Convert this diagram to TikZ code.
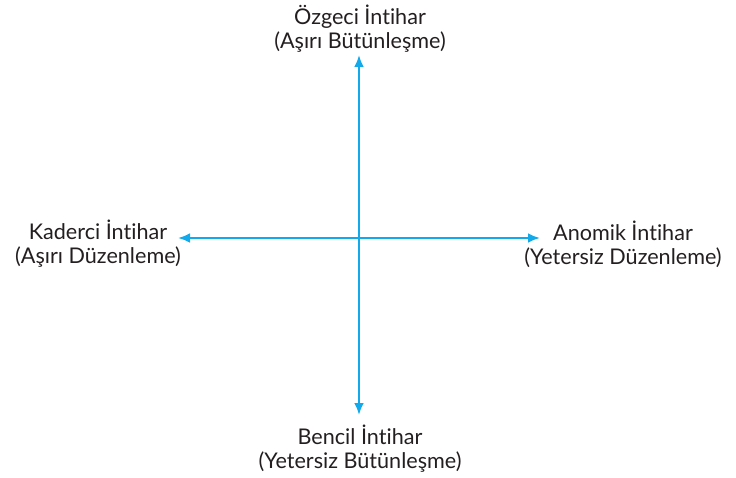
\documentclass[tikz,border=0pt]{standalone}
\usepackage{fontspec}
\setmainfont{Lato}[Ligatures={NoCommon}]
\usetikzlibrary{arrows.meta}
\definecolor{axis}{HTML}{12AAEB}
\definecolor{txt}{HTML}{231F20}
\tikzset{
  lbl/.style={align=center, text=txt, font=\fontsize{16.2}{18}\selectfont, inner sep=0pt},
  axisline/.style={draw=axis, line width=2.2pt, {Latex[length=9pt,width=7.5pt]}-{Latex[length=9pt,width=7.5pt]}}
}
\begin{document}
\begin{tikzpicture}[x=0.75pt,y=-0.75pt]
\useasboundingbox (0,0) rectangle (736,478);
\node[lbl] (top) at (360,29) {Özgeci İntihar\\(Aşırı Bütünleşme)};
\node[lbl] (bot) at (360,449) {Bencil İntihar\\(Yetersiz Bütünleşme)};
\node[lbl] (lft) at (98,244) {Kaderci İntihar\\(Aşırı Düzenleme)};
\node[lbl] (rgt) at (623,244) {Anomik İntihar\\(Yetersiz Düzenleme)};
\coordinate (t) at (359,55);
\coordinate (b) at (359,415);
\coordinate (l) at (178,238);
\coordinate (r) at (540,238);
\draw[axisline] (t) -- (b);
\draw[axisline] (l) -- (r);
\end{tikzpicture}
\end{document}
